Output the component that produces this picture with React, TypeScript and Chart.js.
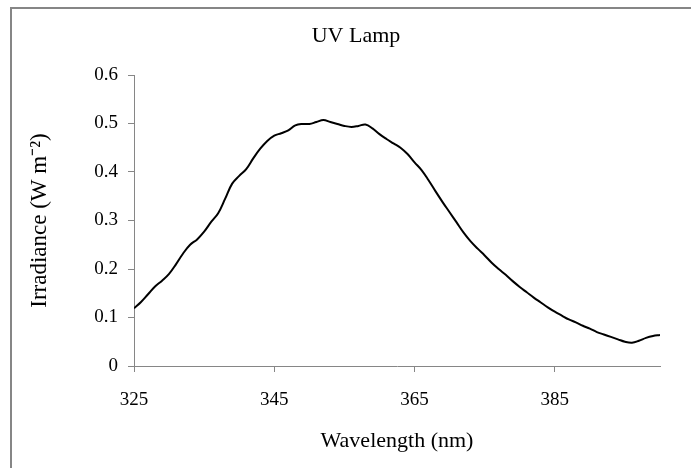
import React, { useEffect, useRef } from "react";
import { Chart, registerables } from "chart.js";

Chart.register(...registerables);

const TITLE = "UV Lamp";
const X_TITLE = "Wavelength (nm)";
const Y_TITLE = "Irradiance (W m\u207B\u00B2)";

const wavelengths: number[] = [
  325, 326, 327, 328, 329, 330, 331, 332, 333, 334, 335, 336, 337, 338, 339,
  340, 341, 342, 343, 344, 345, 346, 347, 348, 349, 350, 351, 352, 353, 354,
  355, 356, 357, 358, 359, 360, 361, 362, 363, 364, 365, 366, 367, 368, 369,
  370, 371, 372, 373, 374, 375, 376, 377, 378, 379, 380, 381, 382, 383, 384,
  385, 386, 387, 388, 389, 390, 391, 392, 393, 394, 395, 396, 397, 398, 399,
  400,
];

const irradiance: number[] = [
  0.119, 0.132, 0.148, 0.164, 0.176, 0.19, 0.21, 0.232, 0.25, 0.261, 0.277,
  0.297, 0.315, 0.345, 0.376, 0.392, 0.406, 0.428, 0.448, 0.464, 0.475, 0.48,
  0.486, 0.496, 0.499, 0.499, 0.503, 0.507, 0.503, 0.499, 0.495, 0.493, 0.495,
  0.498, 0.49, 0.478, 0.468, 0.459, 0.45, 0.437, 0.42, 0.404, 0.383, 0.36,
  0.338, 0.317, 0.296, 0.275, 0.257, 0.242, 0.228, 0.213, 0.2, 0.188, 0.175,
  0.163, 0.152, 0.141, 0.131, 0.121, 0.112, 0.104, 0.096, 0.09, 0.083, 0.077,
  0.07, 0.065, 0.06, 0.055, 0.05, 0.048, 0.052, 0.058, 0.062, 0.064,
];

const xTicks: number[] = [325, 345, 365, 385];
const yTicks: number[] = [0, 0.1, 0.2, 0.3, 0.4, 0.5, 0.6];

const FONT = "'Liberation Serif', 'Times New Roman', serif";

export default function App() {
  const ref = useRef<HTMLCanvasElement | null>(null);

  useEffect(() => {
    document.body.style.margin = "0";
    const canvas = ref.current;
    if (!canvas) return;

    const framePlugin = {
      id: "frameAndTitle",
      beforeDraw(chart: any) {
        const ctx = chart.ctx;
        ctx.save();
        ctx.fillStyle = "#ffffff";
        ctx.fillRect(0, 0, chart.width, chart.height);
        ctx.strokeStyle = "#868686";
        ctx.lineWidth = 2;
        ctx.beginPath();
        ctx.moveTo(11, chart.height + 5);
        ctx.lineTo(11, 8);
        ctx.lineTo(chart.width + 5, 8);
        ctx.stroke();
        ctx.restore();
      },
      afterDraw(chart: any) {
        const ctx = chart.ctx;
        ctx.save();
        ctx.fillStyle = "#000000";
        ctx.font = `22px ${FONT}`;
        ctx.textAlign = "center";
        ctx.textBaseline = "alphabetic";
        ctx.fillText(TITLE, 356, 42);
        ctx.restore();
      },
    };

    const chart = new Chart(canvas, {
      type: "line",
      data: {
        datasets: [
          {
            data: wavelengths.map((w, i) => ({ x: w, y: irradiance[i] })),
            borderColor: "#000000",
            borderWidth: 2,
            pointRadius: 0,
            tension: 0.4,
            fill: false,
          },
        ],
      },
      options: {
        animation: false,
        responsive: false,
        maintainAspectRatio: false,
        layout: { padding: { left: 0, right: 31, top: 75, bottom: 0 } },
        plugins: {
          legend: { display: false },
          tooltip: { enabled: false },
          title: { display: false },
        },
        scales: {
          x: {
            type: "linear",
            min: 325,
            max: 400,
            afterBuildTicks: (scale: any) => {
              scale.ticks = xTicks.map((v) => ({ value: v }));
            },
            afterFit: (scale: any) => {
              scale.height = 102;
            },
            border: { display: true, color: "#868686", width: 1 },
            grid: {
              display: true,
              drawOnChartArea: false,
              drawTicks: true,
              tickLength: 6,
              color: "#868686",
            },
            ticks: {
              color: "#000000",
              font: { family: FONT, size: 19 },
              padding: 17,
              maxRotation: 0,
              autoSkip: false,
              callback: (v: any) => String(v),
            },
            title: {
              display: true,
              text: X_TITLE,
              color: "#000000",
              font: { family: FONT, size: 22 },
              padding: { top: 4, bottom: 14 },
            },
          },
          y: {
            type: "linear",
            min: 0,
            max: 0.6,
            afterBuildTicks: (scale: any) => {
              scale.ticks = yTicks.map((v) => ({ value: v }));
            },
            afterFit: (scale: any) => {
              scale.width = 134;
            },
            border: { display: true, color: "#868686", width: 1 },
            grid: {
              display: true,
              drawOnChartArea: false,
              drawTicks: true,
              tickLength: 6,
              color: "#868686",
            },
            ticks: {
              color: "#000000",
              font: { family: FONT, size: 19 },
              padding: 10,
              callback: (v: any) => (v === 0 ? "0" : Number(v).toFixed(1)),
            },
            title: {
              display: true,
              text: Y_TITLE,
              color: "#000000",
              font: { family: FONT, size: 23 },
              padding: { top: 26, bottom: 0 },
            },
          },
        },
      },
      plugins: [framePlugin],
    });

    return () => chart.destroy();
  }, []);

  return (
    <div style={{ position: "absolute", left: 0, top: 0, width: 691, height: 468 }}>
      <canvas ref={ref} width={691} height={468} style={{ width: 691, height: 468, display: "block" }} />
    </div>
  );
}
